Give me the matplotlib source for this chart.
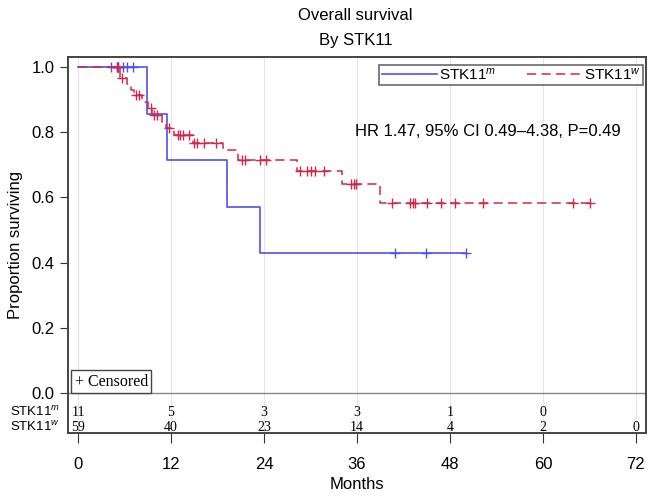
import matplotlib.pyplot as plt
import numpy as np

plt.rcParams['font.family'] = ['Liberation Sans', 'DejaVu Sans']
plt.rcParams['mathtext.fontset'] = 'custom'
plt.rcParams['mathtext.rm'] = 'Liberation Sans'
plt.rcParams['mathtext.it'] = 'Liberation Sans:italic'

# step data (time where survival changes, survival after the step)
mut_times = [0, 8.9, 11.5, 19.2, 23.5]
mut_surv = [1.0, 0.857, 0.714, 0.571, 0.428]
mut_end = 50.1
mut_censor = [4.3, 5.0, 5.2, 5.8, 6.3, 7.1, 40.9, 44.9, 50.1]

wt_times = [0, 5.4, 6.3, 6.8, 7.2, 8.2, 9.0, 9.6, 10.8, 11.4, 12.4, 14.8,
            18.7, 20.6, 28.2, 34.0, 39.0]
wt_surv = [1.0, 0.966, 0.948, 0.931, 0.914, 0.894, 0.874, 0.853, 0.832,
           0.813, 0.792, 0.768, 0.745, 0.715, 0.680, 0.640, 0.582]
wt_end = 66.2
wt_censor = [5.0, 5.2, 5.7, 7.5, 7.9, 9.4, 9.8, 10.2, 11.8, 12.9, 13.2, 13.6,
             14.3, 15.0, 15.3, 16.3, 17.8, 21.1, 21.5, 23.5, 24.2, 28.6, 29.5,
             30.0, 30.6, 31.8, 35.2, 35.6, 35.9, 40.5, 42.9, 43.2, 43.5, 45.0,
             46.9, 48.6, 52.3, 63.9, 66.1]

risk_times = [0, 12, 24, 36, 48, 60, 72]
risk_mut = [11, 5, 3, 3, 1, 0]
risk_wt = [59, 40, 23, 14, 4, 2, 0]

blue = '#5050f0'
red = '#cc2a48'


def surv_at(times, surv, t):
    idx = np.searchsorted(times, t, side='right') - 1
    return np.array(surv)[idx]


fig = plt.figure(figsize=(6.55, 4.96), dpi=100)
ax = fig.add_axes([68 / 655, 1 - 433 / 496, 578 / 655, 376 / 496])

ax.step(mut_times + [mut_end], mut_surv + [mut_surv[-1]], where='post',
        color=blue, lw=1.2, label='STK11$^{m}$')
ax.plot(mut_censor, surv_at(mut_times, mut_surv, mut_censor), '+',
        color=blue, ms=7, mew=1)

ax.step(wt_times + [wt_end], wt_surv + [wt_surv[-1]], where='post',
        color=red, lw=1.1, dashes=(6, 3.5), label='STK11$^{w}$')
ax.plot(wt_censor, surv_at(wt_times, wt_surv, wt_censor), '+',
        color=red, ms=7, mew=1)

ax.set_xlim(-1.3, 73.3)
ax.set_ylim(-0.123, 1.031)
ax.set_xticks(risk_times)
ax.set_yticks([0.0, 0.2, 0.4, 0.6, 0.8, 1.0])
ax.set_yticklabels(['0.0', '0.2', '0.4', '0.6', '0.8', '1.0'])
ax.tick_params(labelsize=12, length=6, color='#333333')
ax.tick_params(axis='x', length=7, pad=10)
ax.grid(axis='x', color='#e6e6e6', lw=0.8)
ax.set_axisbelow(True)
ax.axhline(0, color='#888888', lw=1)
for s in ax.spines.values():
    s.set_color('#444444')
    s.set_linewidth(1.4)

ax.set_xlabel('Months', fontsize=12, labelpad=4)
ax.set_ylabel('Proportion surviving', fontsize=12, labelpad=6)
fig.text(0.5425, 1 - 15 / 496, 'Overall survival', ha='center', va='center', fontsize=12)
fig.text(0.5425, 1 - 40 / 496, 'By STK11', ha='center', va='center', fontsize=12)

leg = ax.legend(loc='upper right', ncol=2, fontsize=11, frameon=True,
                fancybox=False, edgecolor='#444444', handlelength=3.6,
                borderpad=0.15, columnspacing=2.0, handletextpad=0.15,
                borderaxespad=0, bbox_to_anchor=(0.995, 0.98))
leg.get_frame().set_linewidth(1.2)

ax.text(0.956, 0.803, 'HR 1.47, 95% CI 0.49\u20134.38, P=0.49', transform=ax.transAxes,
        ha='right', va='center', fontsize=12)

ax.text(-0.45, 0.035, '+ Censored', fontsize=11.5, family='Liberation Serif',
        va='center', ha='left',
        bbox=dict(boxstyle='square,pad=0.2', fc='white', ec='#444444', lw=1))

for t, n in zip(risk_times, risk_mut):
    ax.text(t, -0.061, str(n), ha='center', va='center', fontsize=10,
            family='Liberation Serif')
for t, n in zip(risk_times, risk_wt):
    ax.text(t, -0.107, str(n), ha='center', va='center', fontsize=10,
            family='Liberation Serif')
fig.text(10 / 655, 1 - 412 / 496, 'STK11$^{m}$', ha='left', va='center', fontsize=9.5)
fig.text(10 / 655, 1 - 427 / 496, 'STK11$^{w}$', ha='left', va='center', fontsize=9.5)

fig.savefig('out.png', dpi=100)
